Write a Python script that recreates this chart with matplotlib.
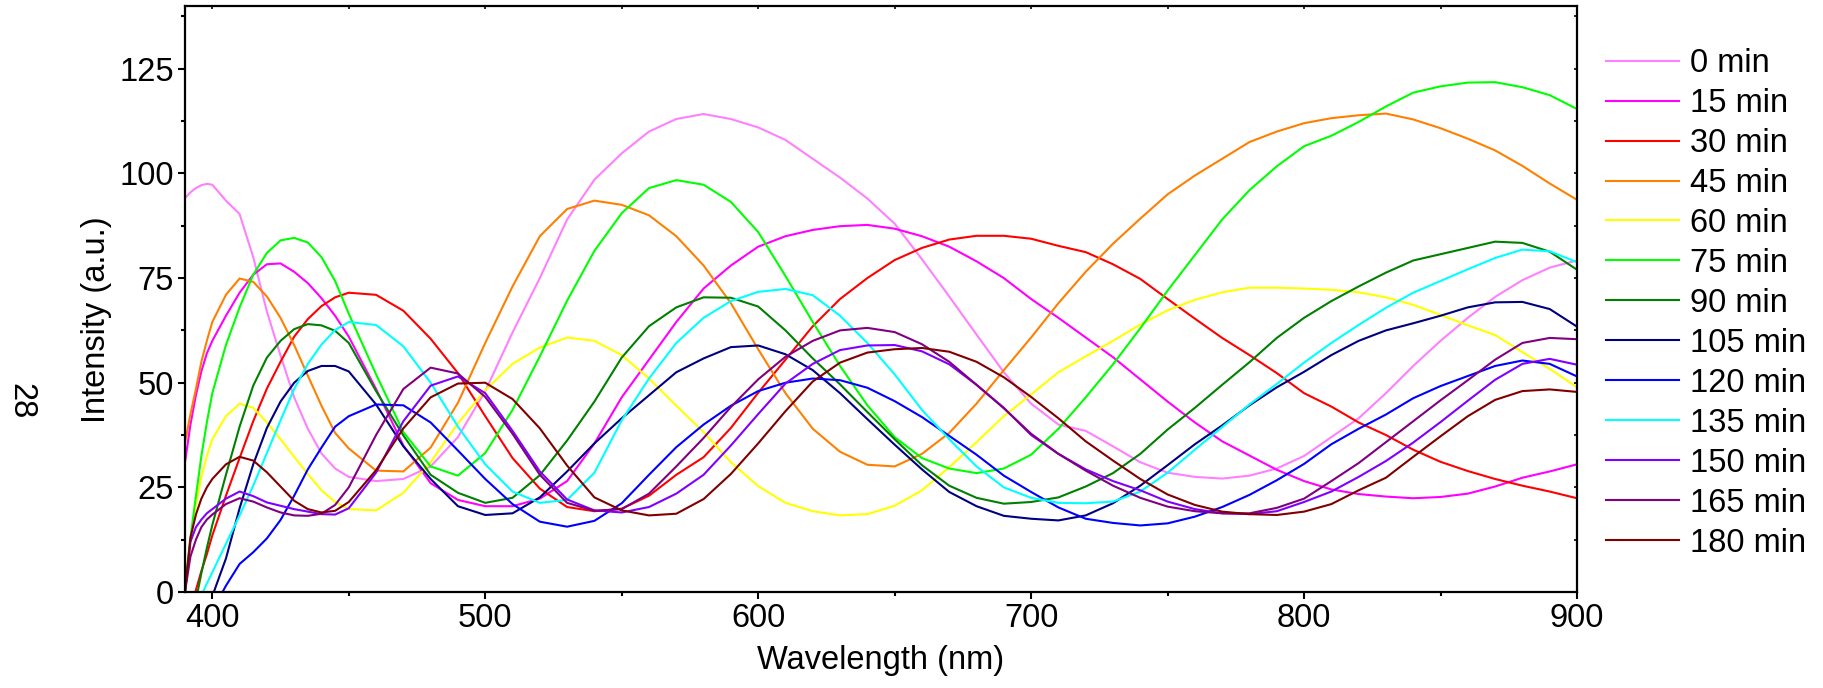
import numpy as np
import matplotlib
matplotlib.use("Agg")
import matplotlib.pyplot as plt
from matplotlib.ticker import MultipleLocator

plt.rcParams['font.family'] = ['Liberation Sans', 'DejaVu Sans']

# wavelength grid (nm), denser at the short-wavelength edge
WAVELENGTH = [390, 392, 394, 396, 398, 400, 405, 410, 415, 420, 425, 430, 435, 440, 445, 450,
              460, 470, 480, 490, 500, 510, 520, 530, 540, 550, 560, 570, 580, 590, 600,
              610, 620, 630, 640, 650, 660, 670, 680, 690, 700, 710, 720, 730, 740, 750,
              760, 770, 780, 790, 800, 810, 820, 830, 840, 850, 860, 870, 880, 890, 900]

nan = np.nan
I_0 = [94.1, 95.5, 96.5, 97.2, 97.5, 97.3, 93.5, 90.3, 80, 67, 56.5, 46.5, 39, 33.1, 29.5, 27.5,
       26.5, 27, 30, 37, 48, 62, 75, 89, 98.5, 104.8, 110, 113, 114.2, 113, 111,
       108, 103.5, 99, 94, 88, 79.5, 70.6, 61.5, 52.5, 45, 40, 38.5, 34.8, 31, 28.5,
       27.5, 27.1, 27.8, 29.5, 32.5, 37, 41.5, 47.5, 54, 60, 65.5, 70.5, 74.5, 77.5, 79.2]
I_15 = [31, 40, 47, 52.7, 57, 60, 66, 71.5, 75.8, 78.3, 78.5, 76.5, 73.8, 70.2, 66, 61,
        48.5, 35, 26, 22, 20.5, 20.5, 22.3, 26.5, 35.5, 46.5, 55.5, 64.5, 72.5, 78, 82.5,
        85, 86.5, 87.4, 87.7, 86.8, 85, 82.5, 79, 75, 70, 65.5, 60.8, 56.1, 50.8, 45.5,
        40.5, 36, 32.6, 29.2, 26.5, 24.5, 23.4, 22.8, 22.4, 22.7, 23.5, 25.2, 27.3, 28.8, 30.5]
I_30 = [nan, -4, 0.5, 5, 9, 13.5, 23, 32, 40.8, 48.6, 55, 61, 65.2, 68.3, 70.4, 71.5,
        71, 67.2, 60.5, 52.3, 42, 32, 24.7, 20.3, 19.3, 19.9, 23, 28, 32.2, 39.2, 47.6,
        55.5, 63.5, 70, 75, 79.3, 82.2, 84.2, 85.1, 85.1, 84.4, 82.7, 81.2, 78.3, 74.8, 70,
        65.3, 60.7, 56.6, 52.3, 47.5, 44.3, 40.5, 37.5, 34, 31.1, 28.9, 27, 25.4, 24, 22.4]
I_45 = [35.7, 42.5, 48.5, 55, 60, 64.5, 71, 74.9, 74.1, 70.6, 65.5, 59, 51.7, 44.5, 38, 34.3,
        29, 28.8, 34.5, 45.2, 59.5, 73, 85, 91.5, 93.5, 92.5, 90, 85, 78, 69, 58,
        47.5, 39, 33.5, 30.4, 30, 33, 38, 45, 53, 60.8, 69, 76.5, 83.2, 89.2, 95,
        99.5, 103.5, 107.5, 110, 112, 113.2, 113.9, 114.3, 112.9, 110.8, 108.3, 105.5, 101.8, 97.6, 93.7]
I_60 = [0, 12, 21, 27.5, 32.5, 36.5, 42, 45, 44, 40.5, 36.5, 32.3, 28.2, 24.3, 21.5, 19.8,
        19.5, 23.7, 31, 40.3, 48.2, 54.5, 58.4, 60.8, 60, 56.6, 51, 44.5, 38.2, 31, 25.3,
        21.3, 19.3, 18.3, 18.6, 20.6, 24.3, 29.8, 35.8, 42, 47.2, 52.5, 56.3, 60, 63.9, 67.3,
        69.8, 71.6, 72.7, 72.7, 72.5, 72.2, 71.6, 70.4, 68.6, 66.2, 63.7, 61.4, 57.3, 53.3, 48.9]
I_75 = [1.5, 13, 22.9, 32.5, 40.5, 47.5, 59, 68, 75.8, 81, 84, 84.6, 83.5, 80, 74.3, 66.5,
        52, 38.2, 30, 27.8, 33.2, 43.5, 56.3, 69.6, 81.5, 90.5, 96.5, 98.4, 97.3, 93.2, 86,
        75.5, 64.5, 54, 44.6, 37, 32, 29.5, 28.4, 29.5, 32.8, 39, 46.5, 54.4, 63, 72,
        80.5, 89, 96, 101.7, 106.5, 109, 112.3, 116, 119.3, 120.8, 121.7, 121.8, 120.6, 118.7, 115.4]
I_90 = [nan, nan, -2, 4.5, 10.5, 16, 28, 39.5, 49.3, 56, 60, 62.8, 64, 63.7, 62.4, 59.5,
        48, 37.4, 28, 23.7, 21.3, 22.5, 27.9, 36.2, 45.5, 56, 63.5, 68, 70.4, 70.3, 68.2,
        62.5, 55.8, 49.6, 43, 36.5, 30.3, 25.4, 22.5, 21.1, 21.5, 22.6, 25.2, 28.4, 33, 38.8,
        44, 49.5, 54.9, 60.7, 65.5, 69.5, 73, 76.3, 79.2, 80.7, 82.2, 83.7, 83.4, 81.3, 77]
I_105 = [nan, nan, nan, nan, nan, -1, 8, 20, 30.5, 39.2, 45.5, 50, 52.8, 54, 54, 52.7,
         44.8, 34.8, 27, 20.5, 18.4, 18.8, 22.6, 28.8, 35.5, 41.5, 47, 52.5, 55.8, 58.5, 58.9,
         56.8, 53, 47.5, 41.3, 35.2, 29.3, 23.9, 20.5, 18.2, 17.5, 17.1, 18.3, 21.2, 25.4, 30.3,
         35.3, 39.8, 44.6, 48.9, 52.6, 56.6, 60, 62.5, 64.2, 66, 68, 69.2, 69.3, 67.6, 63.4]
I_120 = [nan, nan, nan, nan, nan, -4.5, 1.5, 6.7, 9.5, 12.8, 17.2, 23, 29.3, 34.5, 39.5, 42,
         44.8, 44.6, 40.5, 33.8, 27, 21, 16.8, 15.6, 17, 21.2, 28, 34.6, 40, 44.5, 48,
         50, 51, 50.6, 48.8, 45.6, 41.8, 37.3, 32.8, 27.8, 23.9, 20.2, 17.5, 16.5, 15.9, 16.4,
         18, 20.3, 23.2, 26.7, 30.6, 35.3, 39, 42.4, 46.3, 49.2, 51.6, 54, 55.3, 54.5, 51.5]
I_135 = [nan, nan, -3.5, -0.8, 2, 4.7, 11.5, 18.3, 25.4, 33.2, 41, 48.5, 54.5, 59.1, 62.6, 64.5,
         63.8, 58.7, 50, 39.5, 30.5, 24, 21.3, 22, 28.5, 41, 51, 59.5, 65.5, 69.5, 71.7,
         72.4, 70.9, 66, 59.5, 52, 43.5, 36.5, 30, 25, 22.5, 21.3, 21.2, 21.6, 24, 28.5,
         34, 39.4, 44.8, 49.7, 54.8, 59.5, 63.8, 67.9, 71.5, 74.3, 77.1, 79.8, 81.8, 81.4, 78.8]
I_150 = [0, 12, 15.5, 17.3, 18.8, 19.8, 22.3, 24, 22.9, 21.4, 20.6, 19.8, 19.2, 18.6, 18.5, 20,
         28.5, 40.8, 49.3, 51.5, 47.5, 38.5, 28.8, 22.1, 19.5, 19, 20.3, 23.5, 28, 35, 42.5,
         49.8, 54.5, 57.8, 58.9, 59, 57.5, 54.4, 49.5, 44, 37.5, 33, 29.3, 26.5, 24.3, 21.6,
         19.8, 18.8, 18.6, 19.3, 21.5, 24, 27.5, 31.3, 35.7, 40.6, 45.7, 50.7, 54.5, 55.7, 54.3]
I_165 = [0, 8.5, 12.5, 15.5, 17.3, 18.5, 21, 22.4, 21.6, 20.2, 19, 18.3, 18.2, 18.7, 20.8, 25,
         37.5, 48.5, 53.6, 52.2, 46.6, 37.8, 28, 21.3, 19.4, 19.8, 23.5, 30, 36.8, 44.2, 50.8,
         56.2, 60, 62.5, 63.1, 62.1, 59.2, 55, 49.5, 43.9, 37.8, 33, 29, 25.4, 22.5, 20.4,
         19.3, 18.8, 18.8, 20.1, 22.3, 26.5, 30.8, 35.8, 40.8, 45.8, 50.6, 55.5, 59.5, 60.7, 60.4]
I_180 = [0, 13, 18.5, 22.3, 25, 27, 30.5, 32.3, 31.4, 28.6, 25.2, 21.8, 19.8, 19, 19.4, 21.5,
         29.1, 39.1, 46.5, 49.8, 50, 46.1, 39.1, 30.2, 22.6, 19.5, 18.3, 18.7, 22.2, 28.2, 35.5,
         43.2, 50.3, 54.8, 57.2, 58, 58.3, 57.4, 55, 51.3, 46.6, 41.5, 36, 31.4, 27, 23.3,
         20.8, 19.2, 18.6, 18.4, 19.2, 21, 24.3, 27.3, 32.3, 37.2, 42, 45.9, 48, 48.4, 47.8]

SERIES = [I_0, I_15, I_30, I_45, I_60, I_75, I_90, I_105, I_120, I_135, I_150, I_165, I_180]
LABELS = ["0 min", "15 min", "30 min", "45 min", "60 min", "75 min", "90 min",
          "105 min", "120 min", "135 min", "150 min", "165 min", "180 min"]
COLORS = ["#FF80FF", "#FF00FF", "#FF0000", "#FF8000", "#FFFF00", "#00FF00", "#008000",
          "#000080", "#0000FF", "#00FFFF", "#8000FF", "#800080", "#800000"]

W, H = 1824, 688
fig = plt.figure(figsize=(W / 100, H / 100), dpi=100)
ax = fig.add_axes([185 / W, (H - 592) / H, (1577 - 185) / W, (592 - 6) / H])

for vals, lab, col in zip(SERIES, LABELS, COLORS):
    ax.plot(WAVELENGTH, vals, color=col, lw=1.5, label=lab)

ax.set_xlim(390, 900)
ax.set_ylim(0, 140)
ax.xaxis.set_major_locator(MultipleLocator(100))
ax.xaxis.set_minor_locator(MultipleLocator(50))
ax.yaxis.set_major_locator(MultipleLocator(25))
ax.yaxis.set_minor_locator(MultipleLocator(12.5))

fs = 23.5
ax.tick_params(which='both', direction='out', width=1.5, labelsize=fs, pad=3,
               top=False, right=False)
ax.tick_params(which='major', length=5)
ax.tick_params(which='minor', length=3)
for s in ax.spines.values():
    s.set_linewidth(1.6)

# short inward ticks on the top and right frame
sec_x = ax.secondary_xaxis('top')
sec_x.xaxis.set_major_locator(MultipleLocator(50))
sec_x.tick_params(direction='in', length=2.5, width=1.2, labeltop=False)
sec_x.spines['top'].set_visible(False)
sec_y = ax.secondary_yaxis('right')
sec_y.yaxis.set_major_locator(MultipleLocator(12.5))
sec_y.tick_params(direction='in', length=2.5, width=1.2, labelright=False)
sec_y.spines['right'].set_visible(False)

fig.text(881 / W, 1 - 660 / H, "Wavelength (nm)", fontsize=fs, ha='center', va='center')
fig.text(97 / W, 1 - 320 / H, "Intensity (a.u.)", fontsize=fs, ha='center', va='center',
         rotation=90)
fig.text(21 / W, 1 - 401 / H, "28", fontsize=fs, ha='center', va='center', rotation=270)

ax.legend(loc='upper left', bbox_to_anchor=(1606 / W, 1 - 48 / H),
          bbox_transform=fig.transFigure, frameon=False, fontsize=fs,
          handlelength=2.24, handletextpad=0.34, labelspacing=0.275, borderpad=0,
          borderaxespad=0)

fig.savefig("out.png", dpi=100)
